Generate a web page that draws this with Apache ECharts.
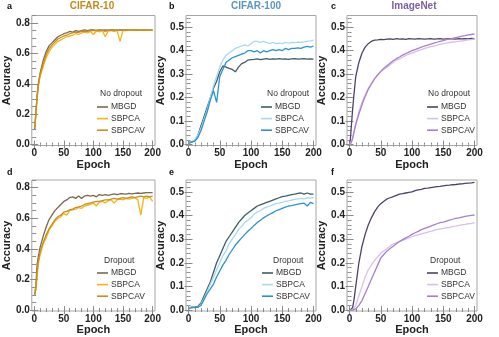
<!DOCTYPE html>
<html>
<head>
<meta charset="utf-8">
<script src="https://cdn.jsdelivr.net/npm/echarts@6/dist/echarts.min.js"></script>
<style>
html,body{margin:0;padding:0;background:#fff}
#main{width:499px;height:337px}
</style>
</head>
<body>
<div id="main"></div>
<script>
var epochs = [1,3,5,7,10,15,20,25,30,35,40,45,50,55,60,65,70,75,80,85,90,95,100,105,110,115,120,125,130,135,140,145,150,155,160,165,170,175,180,185,190,195,200];

var methods = ['MBGD', 'SBPCA', 'SBPCAV'];

// a: CIFAR-10, no dropout
var mbgdA = [0.10,0.22,0.33,0.40,0.47,0.55,0.61,0.65,0.67,0.69, 0.71,0.72,0.73,0.735,0.745,0.74,0.75,0.745,0.75,0.755, 0.75,0.755,0.755,0.752,0.756,0.754,0.755,0.753,0.756,0.755, 0.754,0.755,0.756,0.755,0.755,0.756,0.755,0.755,0.756,0.755, 0.755,0.756,0.755];
var sbpcaA = [0.12,0.20,0.30,0.38,0.45,0.51,0.57,0.61,0.64,0.66, 0.68,0.69,0.70,0.71,0.715,0.72,0.73,0.725,0.735,0.74, 0.735,0.745,0.725,0.748,0.742,0.75,0.71,0.748,0.75,0.745, 0.75,0.68,0.752,0.75,0.753,0.752,0.754,0.753,0.754,0.754, 0.753,0.754,0.754];
var sbpcavA = [0.11,0.21,0.31,0.39,0.46,0.53,0.59,0.63,0.655,0.675, 0.695,0.705,0.715,0.72,0.73,0.735,0.74,0.738,0.745,0.748, 0.745,0.75,0.75,0.752,0.75,0.753,0.745,0.752,0.753,0.75, 0.754,0.752,0.754,0.753,0.754,0.754,0.753,0.754,0.754,0.753, 0.754,0.754,0.753];

// b: CIFAR-100, no dropout
var mbgdB = [0.01,0.01,0.012,0.01,0.015,0.04,0.08,0.12,0.16,0.20, 0.24,0.27,0.31,0.335,0.33,0.325,0.32,0.31,0.33,0.345, 0.35,0.36,0.362,0.363,0.365,0.362,0.364,0.366,0.363,0.365, 0.364,0.366,0.364,0.365,0.363,0.365,0.366,0.364,0.365,0.366, 0.364,0.365,0.364];
var sbpcaB = [0.01,0.012,0.01,0.015,0.02,0.04,0.07,0.11,0.15,0.20, 0.25,0.29,0.33,0.36,0.38,0.39,0.40,0.41,0.415,0.42, 0.425,0.42,0.43,0.44,0.44,0.435,0.44,0.435,0.43,0.435, 0.43,0.432,0.43,0.435,0.432,0.435,0.434,0.437,0.435,0.438, 0.44,0.442,0.445];
var sbpcavB = [0.005,0.008,0.01,0.01,0.015,0.03,0.06,0.10,0.14,0.19, 0.23,0.18,0.29,0.32,0.35,0.36,0.37,0.375,0.38,0.385, 0.39,0.40,0.40,0.395,0.40,0.39,0.40,0.395,0.40,0.405, 0.40,0.405,0.40,0.41,0.405,0.41,0.41,0.412,0.41,0.415, 0.418,0.415,0.42];

// c: ImageNet, no dropout
var mbgdC = [0.01,0.08,0.15,0.21,0.29,0.35,0.39,0.415,0.43,0.44, 0.445,0.446,0.448,0.447,0.449,0.45,0.448,0.451,0.449,0.45, 0.448,0.451,0.45,0.449,0.451,0.45,0.449,0.45,0.451,0.449, 0.45,0.451,0.449,0.45,0.451,0.45,0.449,0.451,0.45,0.451, 0.45,0.452,0.451];
var sbpcaC = [0.0,0.015,0.03,0.055,0.09,0.14,0.18,0.21,0.24,0.26, 0.28,0.295,0.31,0.32,0.33,0.34,0.35,0.36,0.365,0.372, 0.38,0.385,0.39,0.395,0.40,0.405,0.41,0.413,0.417,0.42, 0.424,0.427,0.43,0.432,0.435,0.437,0.438,0.44,0.442,0.444, 0.446,0.447,0.45];
var sbpcavC = [0.0,0.01,0.025,0.05,0.085,0.13,0.17,0.205,0.235,0.258, 0.28,0.297,0.312,0.325,0.336,0.347,0.357,0.366,0.373,0.381, 0.388,0.394,0.40,0.405,0.41,0.415,0.42,0.424,0.428,0.432, 0.436,0.44,0.443,0.447,0.45,0.453,0.456,0.459,0.462,0.464, 0.467,0.469,0.472];

// d: CIFAR-10, dropout
var mbgdD = [0.10,0.17,0.30,0.35,0.41,0.48,0.54,0.59,0.62,0.65, 0.67,0.69,0.71,0.72,0.735,0.74,0.73,0.745,0.73,0.745, 0.75,0.745,0.75,0.74,0.755,0.75,0.755,0.75,0.755,0.76, 0.755,0.76,0.76,0.758,0.762,0.76,0.763,0.765,0.762,0.765, 0.768,0.767,0.767];
var sbpcaD = [0.11,0.13,0.22,0.30,0.36,0.43,0.47,0.52,0.55,0.58, 0.60,0.61,0.63,0.62,0.65,0.655,0.66,0.67,0.665,0.68, 0.685,0.69,0.70,0.68,0.705,0.71,0.70,0.715,0.72,0.70, 0.72,0.725,0.72,0.73,0.725,0.73,0.735,0.72,0.62,0.735, 0.73,0.74,0.71];
var sbpcavD = [0.10,0.15,0.25,0.32,0.38,0.44,0.49,0.53,0.56,0.59, 0.61,0.62,0.64,0.645,0.655,0.66,0.67,0.675,0.68,0.69, 0.695,0.70,0.705,0.71,0.71,0.715,0.72,0.72,0.725,0.73, 0.725,0.73,0.735,0.73,0.735,0.74,0.735,0.74,0.745,0.74, 0.745,0.74,0.745];

// e: CIFAR-100, dropout
var mbgdE = [0.01,0.01,0.012,0.015,0.012,0.015,0.03,0.06,0.09,0.12, 0.16,0.20,0.23,0.26,0.29,0.31,0.33,0.35,0.37,0.385, 0.40,0.41,0.42,0.43,0.44,0.445,0.45,0.455,0.46,0.465, 0.47,0.475,0.48,0.482,0.485,0.488,0.49,0.493,0.495,0.49, 0.495,0.49,0.49];
var sbpcaE = [0.01,0.012,0.01,0.015,0.01,0.012,0.025,0.05,0.08,0.11, 0.14,0.17,0.20,0.23,0.25,0.28,0.30,0.32,0.34,0.355, 0.37,0.38,0.39,0.405,0.415,0.42,0.43,0.435,0.44,0.445, 0.45,0.452,0.455,0.46,0.462,0.465,0.468,0.47,0.472,0.47, 0.475,0.473,0.475];
var sbpcavE = [0.005,0.008,0.01,0.01,0.01,0.012,0.02,0.045,0.07,0.09, 0.11,0.14,0.165,0.19,0.21,0.235,0.255,0.275,0.29,0.305, 0.32,0.333,0.345,0.358,0.37,0.38,0.39,0.398,0.405,0.412, 0.42,0.425,0.43,0.435,0.44,0.442,0.445,0.448,0.45,0.452, 0.44,0.455,0.45];

// f: ImageNet, dropout
var mbgdF = [0.0,0.0,0.01,0.04,0.10,0.20,0.27,0.32,0.36,0.39, 0.415,0.435,0.45,0.46,0.47,0.475,0.48,0.485,0.49,0.492, 0.495,0.498,0.50,0.505,0.508,0.51,0.515,0.516,0.518,0.52, 0.522,0.523,0.525,0.527,0.528,0.53,0.531,0.533,0.534,0.536, 0.537,0.538,0.54];
var sbpcaF = [0.0,0.0,0.0,0.005,0.02,0.06,0.10,0.14,0.17,0.19, 0.21,0.225,0.24,0.25,0.26,0.27,0.28,0.285,0.29,0.295, 0.30,0.305,0.31,0.315,0.318,0.322,0.325,0.33,0.333,0.337, 0.34,0.343,0.345,0.348,0.35,0.353,0.355,0.358,0.36,0.362, 0.365,0.367,0.37];
var sbpcavF = [0.0,0.0,0.0,0.0,0.005,0.02,0.04,0.07,0.10,0.13, 0.16,0.19,0.22,0.235,0.25,0.26,0.27,0.28,0.29,0.298, 0.305,0.312,0.32,0.327,0.333,0.34,0.345,0.35,0.355,0.36, 0.365,0.37,0.372,0.376,0.38,0.384,0.388,0.39,0.393,0.396, 0.398,0.40,0.402];

// tick labels / tick marks
var xTicks = [0, 50, 100, 150, 200];
var xMinor = [0,10,20,30,40,50,60,70,80,90,100,110,120,130,140,150,160,170,180,190,200];
var yTicksHi = [0, 0.2, 0.4, 0.6, 0.8];
var yMinorHi = [0,0.05,0.1,0.15,0.2,0.25,0.3,0.35,0.4,0.45,0.5,0.55,0.6,0.65,0.7,0.75,0.8,0.85];
var yTicksLo = [0, 0.1, 0.2, 0.3, 0.4, 0.5];
var yMinorLo = [0,0.02,0.04,0.06,0.08,0.1,0.12,0.14,0.16,0.18,0.2,0.22,0.24,0.26,0.28,0.3,0.32,0.34,0.36,0.38,0.4,0.42,0.44,0.46,0.48,0.5,0.52,0.54];

var FONT = 'Liberation Sans, Arial, sans-serif';

var palettes = {
  'CIFAR-10': ['#776b52', '#f6b416', '#c88f1b'],
  'CIFAR-100': ['#3f5e66', '#a9d8f0', '#2b93d1'],
  'ImageNet': ['#4f4169', '#d8c0ea', '#a680cb']
};
var titleColors = {'CIFAR-10': '#c28a1e', 'CIFAR-100': '#5a96be', 'ImageNet': '#7d5fa0'};

var panels = [
  {letter: 'a', set: 'CIFAR-10', cond: 'No dropout', ys: [mbgdA, sbpcaA, sbpcavA], hi: true,
   grid: {left: 26, top: 15.5, width: 129, height: 130}, leg: [97, 102], condPos: [100, 89], letterX: 7, titleX: 92},
  {letter: 'b', set: 'CIFAR-100', cond: 'No dropout', ys: [mbgdB, sbpcaB, sbpcavB], hi: false,
   grid: {left: 186, top: 15.5, width: 130, height: 130}, leg: [261, 102], condPos: [267, 89], letterX: 169, titleX: 256},
  {letter: 'c', set: 'ImageNet', cond: 'No dropout', ys: [mbgdC, sbpcaC, sbpcavC], hi: false,
   grid: {left: 347, top: 15.5, width: 130, height: 130}, leg: [427, 102], condPos: [428, 89], letterX: 331, titleX: 414},
  {letter: 'd', set: 'CIFAR-10', cond: 'Dropout', ys: [mbgdD, sbpcaD, sbpcavD], hi: true,
   grid: {left: 26, top: 180, width: 129, height: 131}, leg: [97, 268], condPos: [104, 256], letterX: 7},
  {letter: 'e', set: 'CIFAR-100', cond: 'Dropout', ys: [mbgdE, sbpcaE, sbpcavE], hi: false,
   grid: {left: 186, top: 180, width: 130, height: 131}, leg: [262, 268], condPos: [273, 256], letterX: 169},
  {letter: 'f', set: 'ImageNet', cond: 'Dropout', ys: [mbgdF, sbpcaF, sbpcavF], hi: false,
   grid: {left: 347, top: 180, width: 130, height: 131}, leg: [427, 268], condPos: [430, 256], letterX: 331}
];

var grids = [], xAxes = [], yAxes = [], series = [], legends = [], titles = [];
var tickColor = '#8a8a8a';

panels.forEach(function (p, g) {
  grids.push(Object.assign({show: true, borderColor: '#a6a6a6', borderWidth: 1, containLabel: false}, p.grid));

  var xBase = {gridIndex: g, type: 'value', min: -4, max: 204, axisLine: {show: false}, splitLine: {show: false}};
  var xMain = xAxes.length;
  xAxes.push(Object.assign({}, xBase, {
    position: 'bottom', name: 'Epoch', nameLocation: 'middle', nameGap: 12,
    nameTextStyle: {fontFamily: FONT, fontSize: 11, fontWeight: 'bold', color: '#222'},
    axisLabel: {customValues: xTicks, margin: 3, fontFamily: FONT, fontSize: 10, fontWeight: 'bold', color: '#222'},
    axisTick: {customValues: xTicks, inside: true, length: 4, lineStyle: {color: tickColor}}
  }));
  xAxes.push(Object.assign({}, xBase, {position: 'bottom', axisLabel: {show: false},
    axisTick: {customValues: xMinor, inside: true, length: 2, lineStyle: {color: tickColor}}}));
  xAxes.push(Object.assign({}, xBase, {position: 'top', axisLabel: {show: false},
    axisTick: {customValues: xTicks, inside: true, length: 4, lineStyle: {color: tickColor}}}));
  xAxes.push(Object.assign({}, xBase, {position: 'top', axisLabel: {show: false},
    axisTick: {customValues: xMinor, inside: true, length: 2, lineStyle: {color: tickColor}}}));

  var yt = p.hi ? yTicksHi : yTicksLo;
  var ym = p.hi ? yMinorHi : yMinorLo;
  var yBase = {gridIndex: g, type: 'value', min: p.hi ? -0.006 : -0.004, max: p.hi ? 0.85 : 0.55,
    axisLine: {show: false}, splitLine: {show: false}};
  var yMain = yAxes.length;
  yAxes.push(Object.assign({}, yBase, {
    position: 'left', name: 'Accuracy', nameLocation: 'middle', nameGap: 13,
    nameTextStyle: {fontFamily: FONT, fontSize: 11, fontWeight: 'bold', color: '#222'},
    axisLabel: {customValues: yt, margin: 2, fontFamily: FONT, fontSize: 10, fontWeight: 'bold', color: '#222',
      formatter: function (v) { return v.toFixed(1); }},
    axisTick: {customValues: yt, inside: true, length: 4, lineStyle: {color: tickColor}}
  }));
  yAxes.push(Object.assign({}, yBase, {position: 'left', axisLabel: {show: false},
    axisTick: {customValues: ym, inside: true, length: 2, lineStyle: {color: tickColor}}}));
  yAxes.push(Object.assign({}, yBase, {position: 'right', axisLabel: {show: false},
    axisTick: {customValues: yt, inside: true, length: 4, lineStyle: {color: tickColor}}}));
  yAxes.push(Object.assign({}, yBase, {position: 'right', axisLabel: {show: false},
    axisTick: {customValues: ym, inside: true, length: 2, lineStyle: {color: tickColor}}}));

  var cols = palettes[p.set];
  var names = [];
  methods.forEach(function (m, k) {
    var nm = p.letter + ':' + m;
    names.push(nm);
    series.push({
      name: nm, type: 'line', xAxisIndex: xMain, yAxisIndex: yMain,
      showSymbol: false, symbol: 'none', animation: false,
      lineStyle: {color: cols[k], width: 1.3},
      itemStyle: {color: cols[k]},
      data: epochs.map(function (e, i) { return [e, p.ys[k][i]]; })
    });
  });

  legends.push({
    data: names, orient: 'vertical', left: p.leg[0], top: p.leg[1], padding: 0,
    icon: 'rect', itemWidth: 11, itemHeight: 1.6, itemGap: 1.6, selectedMode: false,
    formatter: function (n) { return n.split(':')[1]; },
    textStyle: {fontFamily: FONT, fontSize: 8.5, color: '#333', lineHeight: 10, padding: [0, 0, 0, -2]}
  });

  titles.push({text: p.cond, left: p.condPos[0], top: p.condPos[1], padding: 0,
    textStyle: {fontFamily: FONT, fontSize: 8.5, fontWeight: 'normal', color: '#333'}});
  titles.push({text: p.letter, left: p.letterX, top: g < 3 ? 2 : 168, padding: 0,
    textStyle: {fontFamily: FONT, fontSize: 9, fontWeight: 'bold', color: '#111'}});
  if (p.titleX) {
    titles.push({text: p.set, left: p.titleX, top: 1, padding: 0, textAlign: 'center',
      textStyle: {fontFamily: FONT, fontSize: 10, fontWeight: 'bold', color: titleColors[p.set]}});
  }
});

var chart = echarts.init(document.getElementById('main'), null, {renderer: 'canvas'});
chart.setOption({
  animation: false,
  backgroundColor: '#fff',
  title: titles,
  legend: legends,
  grid: grids,
  xAxis: xAxes,
  yAxis: yAxes,
  series: series
});
</script>
</body>
</html>
